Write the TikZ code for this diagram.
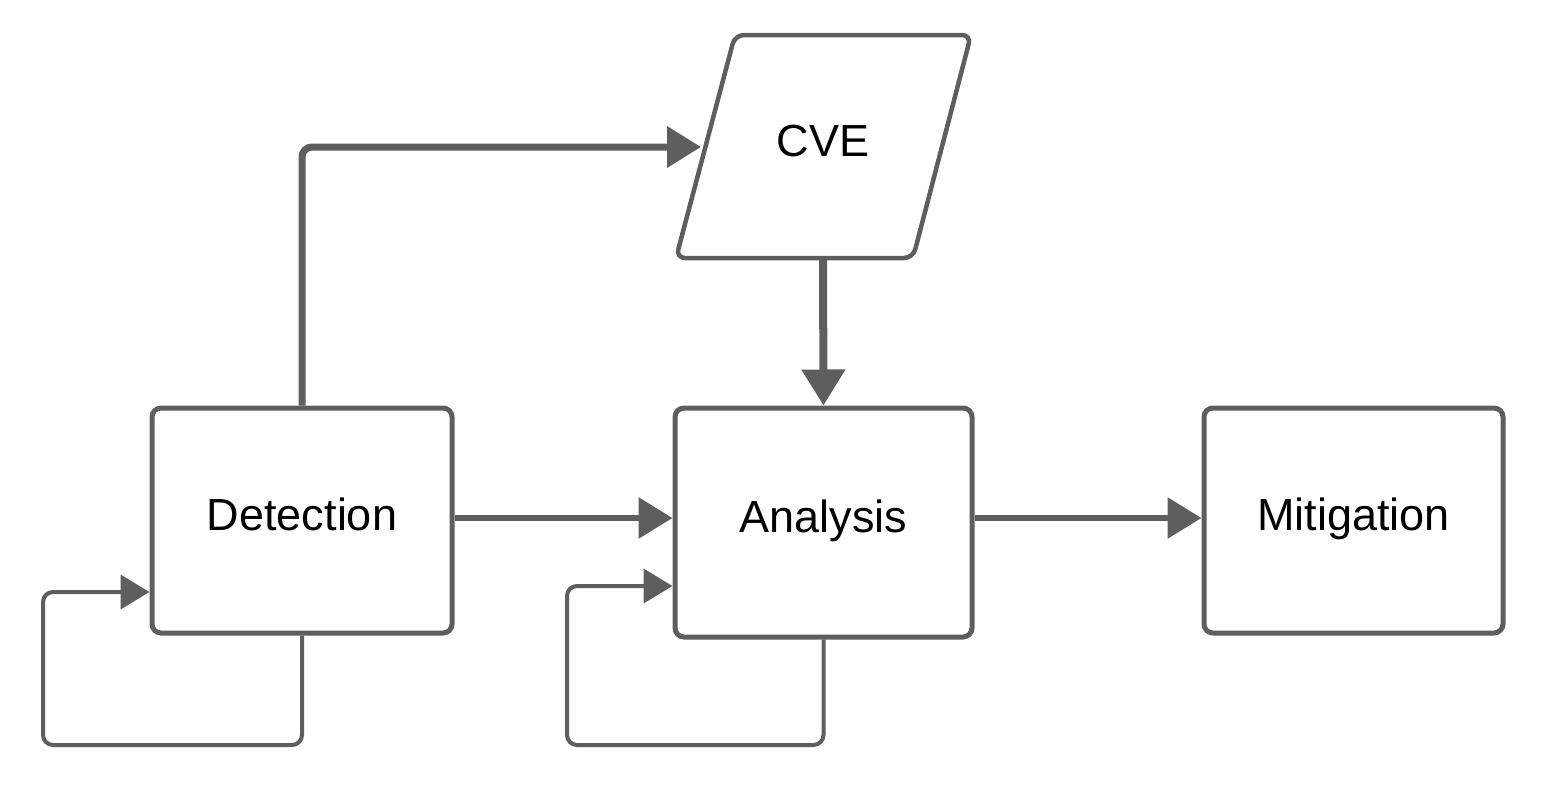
\documentclass[tikz,border=0pt]{standalone}
\usepackage{fontspec}
\setmainfont{Liberation Sans}
\usetikzlibrary{arrows.meta}
\definecolor{lc}{RGB}{94,94,94}
\begin{document}
\begin{tikzpicture}[x=1pt,y=-1pt,
  box/.style={draw=lc, line width=5pt, rounded corners=9pt, fill=white,
    font=\fontsize{45}{54}\selectfont, inner sep=0pt, text height=32pt, text depth=12pt},
  lbl/.style={font=\fontsize{45}{54}\selectfont, inner sep=0pt},
  conn/.style={draw=lc, rounded corners=10pt},
  bigtip/.style={-{Triangle[length=34pt,width=40pt]}, color=lc},
  smalltip/.style={-{Triangle[length=29pt,width=34pt]}, color=lc}]
\useasboundingbox (0,0) rectangle (1546,795);
% boxes
\node[box, minimum width=300pt, minimum height=225pt] (det) at (302,520.5) {Detection};
\node[box, minimum width=297pt, minimum height=229pt] (ana) at (823.5,522.5) {Analysis};
\node[box, minimum width=299pt, minimum height=225pt] (mit) at (1353.5,520.5) {Mitigation};
% CVE parallelogram
\draw[draw=lc, line width=4.5pt, rounded corners=9pt, fill=white]
  (735,35) -- (971,35) -- (913,258) -- (676,258) -- cycle;
\node[lbl] (cve) at (823,141) {CVE};
\coordinate (cvein) at (701,147);
\coordinate (cvebot) at (823,260);
\coordinate (yline) at (0,518);
\coordinate (cD) at (43,745);
\coordinate (yD) at (0,592);
\coordinate (cA) at (567,745);
\coordinate (yA) at (0,586);
% connectors
\draw[conn, line width=7pt, bigtip] (det.north) |- (cvein);
\draw[conn, line width=8pt, -{Triangle[length=36pt,width=42pt]}, color=lc] (cvebot) -- (ana.north);
\draw[conn, line width=6pt, bigtip] (det.east |- yline) -- (ana.west |- yline);
\draw[conn, line width=6pt, bigtip] (ana.east |- yline) -- (mit.west |- yline);
\draw[conn, line width=4pt, smalltip] (det.south) |- (cD) |- (det.west |- yD);
\draw[conn, line width=4pt, smalltip] (ana.south) |- (cA) |- (ana.west |- yA);
\end{tikzpicture}
\end{document}
